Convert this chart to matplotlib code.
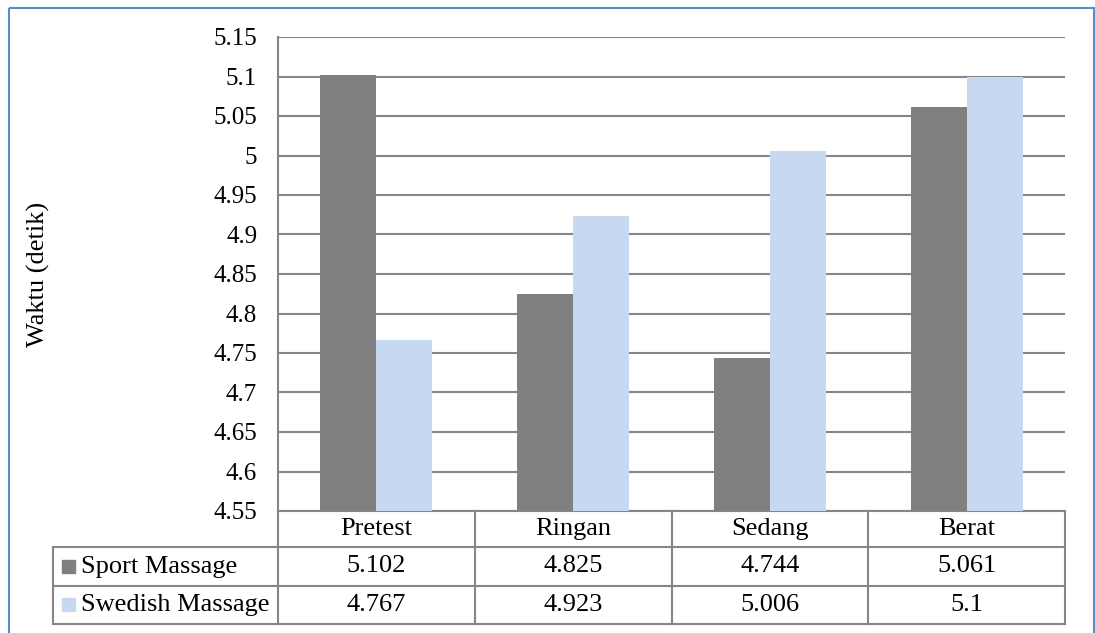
import matplotlib
matplotlib.use("Agg")
import matplotlib.pyplot as plt
from matplotlib.patches import Rectangle
import numpy as np

categories = ["Pretest", "Ringan", "Sedang", "Berat"]
series_names = ["Sport Massage", "Swedish Massage"]
sport_values = [5.102, 4.825, 4.744, 5.061]
swedish_values = [4.767, 4.923, 5.006, 5.1]
sport_labels = ["5.102", "4.825", "4.744", "5.061"]
swedish_labels = ["4.767", "4.923", "5.006", "5.1"]
y_ticks = [4.55, 4.6, 4.65, 4.7, 4.75, 4.8, 4.85, 4.9, 4.95, 5.0, 5.05, 5.1, 5.15]
y_tick_labels = ["4.55", "4.6", "4.65", "4.7", "4.75", "4.8", "4.85", "4.9",
                 "4.95", "5", "5.05", "5.1", "5.15"]

plt.rcParams["font.family"] = ["Liberation Serif", "DejaVu Serif"]
FS_TICK = 18
FS_NUM = 19
FS_TXT = 19
GRID = "#868686"
SPORT_C = "#808080"
SWED_C = "#C6D9F1"

W, H = 1095, 633
fig = plt.figure(figsize=(W / 100, H / 100), dpi=100)

# pixel-space overlay for border and the data table
ov = fig.add_axes([0, 0, 1, 1])
ov.set_xlim(0, W)
ov.set_ylim(H, 0)
ov.axis("off")

ov.add_patch(Rectangle((8.5, 7.5), 1085, 640, fill=False, edgecolor="#5B8BC9",
                       linewidth=1.5))

# plot area in pixels
L, R, T, B = 278, 1065, 37, 511
ax = fig.add_axes([L / W, 1 - B / H, (R - L) / W, (B - T) / H])
ax.set_facecolor("none")
ax.set_ylim(4.55, 5.15)
ax.set_xlim(0, len(categories))
ax.set_yticks(y_ticks)
ax.set_yticklabels(y_tick_labels, fontsize=FS_TICK)
ax.tick_params(axis="y", length=0, pad=15)
ax.set_xticks([])
for s in ["top", "right", "bottom"]:
    ax.spines[s].set_visible(False)
ax.spines["left"].set_color(GRID)
ax.spines["left"].set_linewidth(1.5)
ax.yaxis.grid(True, color=GRID, linewidth=1.5)
ax.set_axisbelow(True)

x = np.arange(len(categories)) + 0.5
bw = 0.285
base = 4.55
ax.bar(x - bw / 2, np.array(sport_values) - base, bw, bottom=base, color=SPORT_C, zorder=3)
ax.bar(x + bw / 2, np.array(swedish_values) - base, bw, bottom=base, color=SWED_C, zorder=3)

ov.text(38, 274, "Waktu (detik)", rotation=90, ha="center", va="center", fontsize=FS_TXT)

# data table
rows_y = [511, 547, 586, 624]
col_w = (R - L) / len(categories)
col_x = [L + i * col_w for i in range(len(categories) + 1)]
TL = 53
lc = dict(color=GRID, linewidth=1.5)
ov.plot([L, R], [rows_y[0], rows_y[0]], **lc)
for yy in rows_y[1:]:
    ov.plot([TL, R], [yy, yy], **lc)
ov.plot([TL, TL], [rows_y[1], rows_y[3]], **lc)
ov.plot([L, L], [B, rows_y[3]], **lc)
for xx in col_x[1:]:
    ov.plot([xx, xx], [rows_y[0], rows_y[3]], **lc)

for i, c in enumerate(categories):
    cx = (col_x[i] + col_x[i + 1]) / 2
    ov.text(cx, (rows_y[0] + rows_y[1]) / 2, c, ha="center", va="center", fontsize=FS_TXT)
    ov.text(cx, (rows_y[1] + rows_y[2]) / 2, sport_labels[i], ha="center", va="center", fontsize=FS_NUM)
    ov.text(cx, (rows_y[2] + rows_y[3]) / 2, swedish_labels[i], ha="center", va="center", fontsize=FS_NUM)

for j, (name, col) in enumerate(zip(series_names, [SPORT_C, SWED_C])):
    cy = (rows_y[j + 1] + rows_y[j + 2]) / 2
    ov.add_patch(Rectangle((62, cy - 7), 13, 13, color=col))
    ov.text(81, cy, name, ha="left", va="center", fontsize=FS_TXT)

fig.savefig("out.png", dpi=100)
